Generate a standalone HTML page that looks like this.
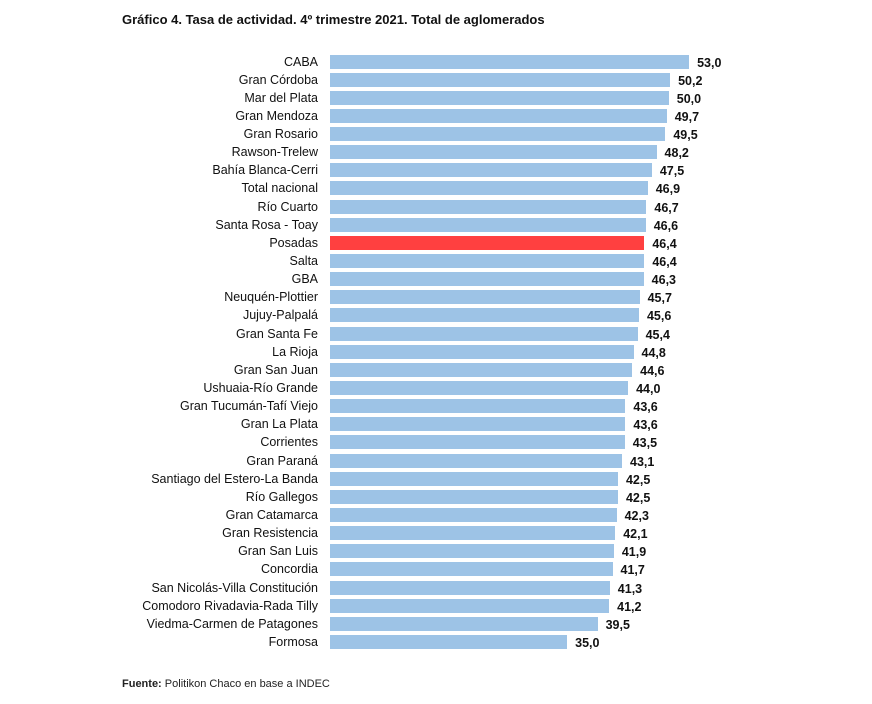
<!DOCTYPE html>
<html><head><meta charset="utf-8"><style>
body{margin:0;background:#fff;width:872px;height:704px;position:relative;font-family:"Liberation Sans",Arial,sans-serif;overflow:hidden}
.t{position:absolute;left:122px;top:12px;font-size:13px;font-weight:bold;color:#111}
.f{position:absolute;left:122px;top:678px;font-size:11px;color:#222}
.l{position:absolute;right:554px;font-size:12.5px;color:#111;white-space:nowrap;line-height:14px}
.b{position:absolute;left:330px;height:14px;background:#9dc3e6}
.v{position:absolute;font-size:12.5px;font-weight:bold;color:#111;line-height:14px}
</style></head><body>
<div class="t">Gráfico 4. Tasa de actividad. 4º trimestre 2021. Total de aglomerados</div>
<div id="c"></div>
<div class="f"><b>Fuente:</b> Politikon Chaco en base a INDEC</div>
<script>
const d=[["CABA",53.0],["Gran Córdoba",50.2],["Mar del Plata",50.0],["Gran Mendoza",49.7],["Gran Rosario ",49.5],["Rawson-Trelew",48.2],["Bahía Blanca-Cerri",47.5],["Total nacional",46.9],["Río Cuarto",46.7],["Santa Rosa - Toay",46.6],["Posadas",46.4],["Salta",46.4],["GBA",46.3],["Neuquén-Plottier",45.7],["Jujuy-Palpalá",45.6],["Gran Santa Fe",45.4],["La Rioja",44.8],["Gran San Juan",44.6],["Ushuaia-Río Grande",44.0],["Gran Tucumán-Tafí Viejo",43.6],["Gran La Plata",43.6],["Corrientes",43.5],["Gran Paraná",43.1],["Santiago del Estero-La Banda",42.5],["Río Gallegos ",42.5],["Gran Catamarca",42.3],["Gran Resistencia ",42.1],["Gran San Luis",41.9],["Concordia",41.7],["San Nicolás-Villa Constitución",41.3],["Comodoro Rivadavia-Rada Tilly",41.2],["Viedma-Carmen de Patagones",39.5],["Formosa",35.0]];
let h="";d.forEach((r,i)=>{const y=54.5+i*18.14,w=r[1]*6.775;
h+=`<div class="l" style="top:${y}px">${r[0]}</div><div class="b" style="top:${y}px;width:${w}px;${r[0]=="Posadas"?"background:#ff4040":""}"></div><div class="v" style="top:${y+1}px;left:${330+w+8}px">${r[1].toFixed(1).replace(".",",")}</div>`});
document.getElementById("c").innerHTML=h;
</script>
</body></html>
